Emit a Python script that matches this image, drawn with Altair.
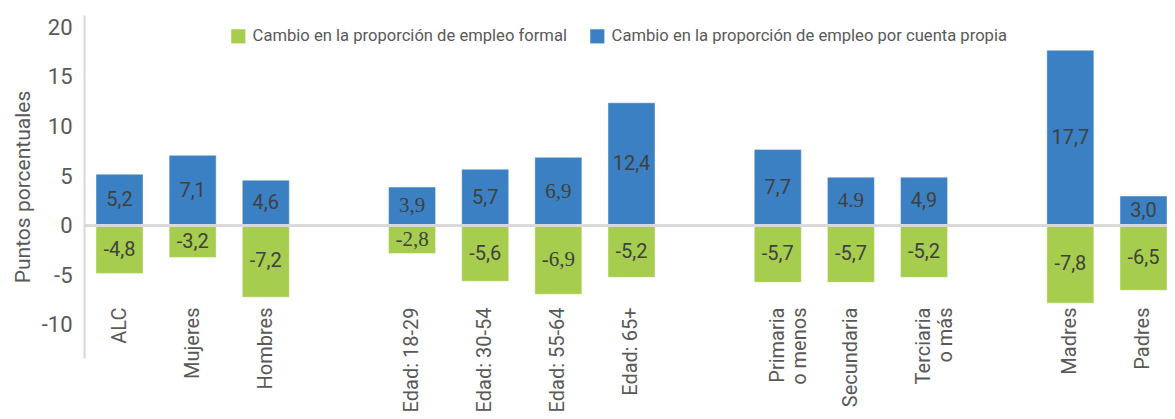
import altair as alt
import pandas as pd

# Categories (gap slots "_g*" separate the groups)
categories = ["ALC", "Mujeres", "Hombres", "_g1",
              "Edad: 18-29", "Edad: 30-54", "Edad: 55-64", "Edad: 65+", "_g2",
              "Primaria|o menos", "Secundaria", "Terciaria|o más", "_g3",
              "Madres", "Padres"]
real_cats = ["ALC", "Mujeres", "Hombres",
             "Edad: 18-29", "Edad: 30-54", "Edad: 55-64", "Edad: 65+",
             "Primaria|o menos", "Secundaria", "Terciaria|o más",
             "Madres", "Padres"]

formal = [-4.8, -3.2, -7.2, -2.8, -5.6, -6.9, -5.2, -5.7, -5.7, -5.2, -7.8, -6.5]
cuenta = [5.2, 7.1, 4.6, 3.9, 5.7, 6.9, 12.4, 7.7, 4.9, 4.9, 17.7, 3.0]
formal_lbl = ["-4,8", "-3,2", "-7,2", "-2,8", "-5,6", "-6,9", "-5,2", "-5,7", "-5,7", "-5,2", "-7,8", "-6,5"]
cuenta_lbl = ["5,2", "7,1", "4,6", "3,9", "5,7", "6,9", "12,4", "7,7", "4.9", "4,9", "17,7", "3,0"]
formal_serif = [False, False, False, True, False, True, False, False, False, False, False, False]
cuenta_serif = [False, False, False, True, False, True, False, False, True, False, False, False]

series = ["Cambio en la proporción de empleo formal",
          "Cambio en la proporción de empleo por cuenta propia"]
colors = ["#a6cd4d", "#3a80c2"]
y_ticks = [-10, -5, 0, 5, 10, 15, 20]

rows = []
for c, v, l, s in zip(real_cats, formal, formal_lbl, formal_serif):
    rows.append({"cat": c, "serie": series[0], "v": v, "lbl": l, "serif": s, "mid": v / 2})
for c, v, l, s in zip(real_cats, cuenta, cuenta_lbl, cuenta_serif):
    rows.append({"cat": c, "serie": series[1], "v": v, "lbl": l, "serif": s, "mid": v / 2})
df = pd.DataFrame(rows)

FONT = "Roboto"
GRAY = "#595959"

x_enc = alt.X("cat:N", sort=categories,
              scale=alt.Scale(domain=categories, paddingInner=0.357, paddingOuter=0.082,
                              align=1),
              axis=alt.Axis(title=None, orient="bottom", offset=-51, labelAngle=-90,
                            ticks=False, domain=False, labelPadding=0,
                            labelFont=FONT, labelFontSize=20, labelColor=GRAY,
                            labelLineHeight=22, labelLimit=300,
                            labelExpr="indexof(datum.label, '_g') == 0 ? '' : split(datum.label, '|')"))

y_scale = alt.Scale(domain=[-13.33, 21.25], nice=False, zero=False)

bars = alt.Chart(df).mark_bar(stroke="#ffffff", strokeWidth=1, strokeOpacity=0.45).encode(
    x=x_enc,
    y=alt.Y("v:Q", scale=y_scale,
            axis=alt.Axis(title="Puntos porcentuales", values=y_ticks, grid=False, ticks=False,
                          domainColor="#d9d9d9", domainWidth=2,
                          labelExpr="'' + datum.value",
                          labelFont=FONT, labelFontSize=22, labelColor=GRAY, labelPadding=12,
                          titleFont=FONT, titleFontSize=21, titleColor=GRAY,
                          titleFontWeight="normal", titlePadding=8)),
    color=alt.Color("serie:N", scale=alt.Scale(domain=series, range=colors),
                    legend=alt.Legend(title=None, orient="none", direction="horizontal",
                                      legendX=146, legendY=13, symbolType="square",
                                      symbolSize=200, symbolStrokeWidth=0,
                                      labelFont=FONT, labelFontSize=16.6, labelColor=GRAY,
                                      labelOffset=6, columnPadding=22, padding=0,
                                      labelLimit=500)),
)

zero = alt.Chart(df).mark_rule(color="#d9d9d9", strokeWidth=2).encode(y=alt.datum(0))

txt_sans = alt.Chart(df).transform_filter("!datum.serif").mark_text(
    font=FONT, fontSize=20, color="#404040").encode(
    x=alt.X("cat:N", sort=categories), y=alt.Y("mid:Q", stack=None), text="lbl:N")

txt_serif = alt.Chart(df).transform_filter("datum.serif").mark_text(
    font="Liberation Serif", fontSize=21, color="#404040").encode(
    x=alt.X("cat:N", sort=categories), y=alt.Y("mid:Q", stack=None), text="lbl:N")

chart = alt.layer(bars, zero, txt_sans, txt_serif).properties(
    width=1083, height=343,
    autosize=alt.AutoSizeParams(type="none"),
    padding={"left": 76, "top": 7, "right": 0, "bottom": 53},
    background="white",
).configure_view(stroke=None)

chart.save("out.html", embed_options={"renderer": "svg", "actions": False})
